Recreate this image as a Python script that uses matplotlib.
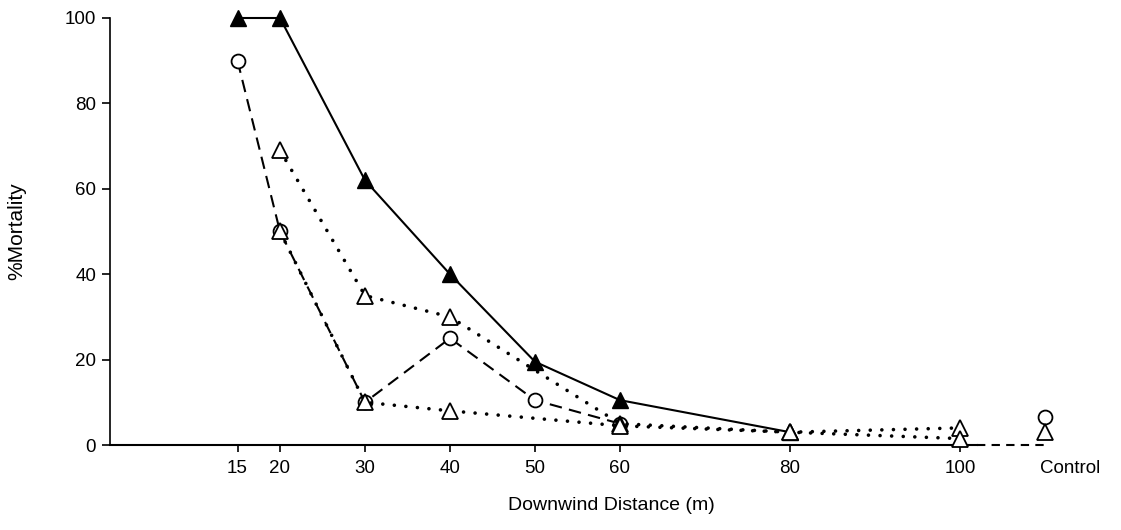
import matplotlib.pyplot as plt

# ─────────────────────────────────────────────
# Datos
# ─────────────────────────────────────────────
CONTROL_X = 110

x_llenos = [15, 20, 30, 40, 50, 60, 80]
y_llenos = [100, 100, 62, 40, 19.5, 10.5, 3]

x_circulos = [15, 20, 30, 40, 50, 60]
y_circulos = [90, 50, 10, 25, 10.5, 5]
y_circulo_control = 6.5

x_tri_a = [20, 30, 40, 60, 80, 100]
y_tri_a = [69, 35, 30, 5, 3, 4]
y_tri_control = 3

x_tri_b = [20, 30, 40, 60, 80, 100]
y_tri_b = [50, 10, 8, 4.5, 3, 1.5]

xticks = [15, 20, 30, 40, 50, 60, 80, 100, 113]
xtick_labels = ['15', '20', '30', '40', '50', '60', '80', '100', 'Control']
yticks = [0, 20, 40, 60, 80, 100]

plt.rcParams['font.family'] = ['Liberation Sans', 'DejaVu Sans']

fig = plt.figure(figsize=(11.21, 5.30), dpi=100)
ax = fig.add_axes([110 / 1121, 85 / 530, 1003 / 1121, 427 / 530])

dotted = (0, (0.01, 3.2))

# serie con triángulos llenos (línea continua)
ax.plot(x_llenos, y_llenos, color='black', lw=1.5, marker='^', ms=11,
        mfc='black', mec='black', clip_on=False, zorder=3)

# círculos abiertos (línea discontinua)
ax.plot(x_circulos, y_circulos, color='black', lw=1.5, linestyle=(0, (6, 3.5)),
        marker='o', ms=10, mfc='white', mec='black', mew=1.3, clip_on=False, zorder=4)
ax.plot([CONTROL_X], [y_circulo_control], marker='o', ms=10, mfc='white',
        mec='black', mew=1.3, clip_on=False, zorder=4)

# triángulos abiertos (punteado)
ax.plot(x_tri_a, y_tri_a, color='black', lw=2.6, linestyle=dotted,
        dash_capstyle='round', marker='^', ms=11, mfc='white', mec='black',
        mew=1.3, clip_on=False, zorder=5)
ax.plot(x_tri_b, y_tri_b, color='black', lw=2.6, linestyle=dotted,
        dash_capstyle='round', marker='^', ms=11, mfc='white', mec='black',
        mew=1.3, clip_on=False, zorder=5)
ax.plot([CONTROL_X], [y_tri_control], marker='^', ms=11, mfc='white',
        mec='black', mew=1.3, clip_on=False, zorder=5)

# eje roto hasta el control
ax.plot([102, CONTROL_X], [0, 0], color='black', lw=1.5,
        linestyle=(0, (4, 3)), clip_on=False, zorder=2)

ax.set_xlim(0, 118)
ax.set_ylim(0, 100)

for s in ['top', 'right']:
    ax.spines[s].set_visible(False)
ax.spines['bottom'].set_bounds(0, 102)
ax.spines['bottom'].set_linewidth(1.5)
ax.spines['left'].set_linewidth(1.2)

ax.set_xticks(xticks)
ax.set_xticklabels(xtick_labels, fontsize=13.5)
ax.xaxis.get_major_ticks()[-1].tick1line.set_visible(False)
ax.set_yticks(yticks)
ax.set_yticklabels([str(v) for v in yticks], fontsize=13.5)
ax.tick_params(axis='x', length=5, width=1.2, pad=6)
ax.tick_params(axis='y', length=6, width=1.2, pad=4)

ax.set_xlabel('Downwind Distance (m)', fontsize=14, labelpad=14)
ax.set_ylabel('%Mortality', fontsize=15, labelpad=28)

plt.savefig('out.png', dpi=100)
plt.close()
